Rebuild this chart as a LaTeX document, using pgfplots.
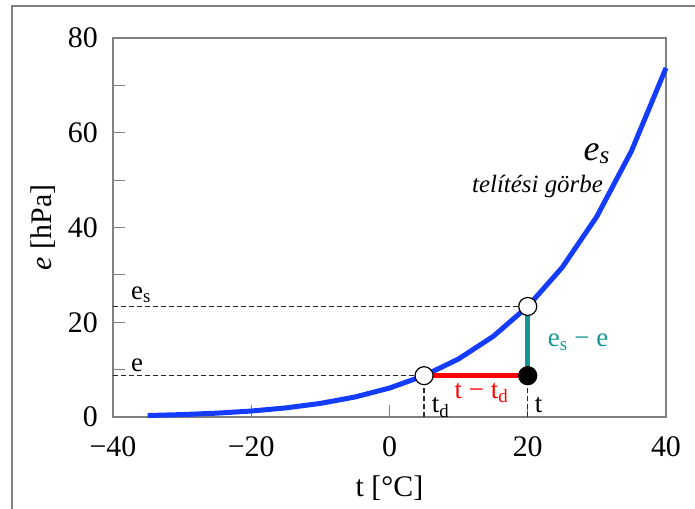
\documentclass[border=0pt]{standalone}
\usepackage{fontspec}
\setmainfont{Liberation Serif}[
  UprightFont=*, ItalicFont=* Italic, BoldFont=* Bold]
\newfontfamily\itserif{Liberation Serif Italic}
\usepackage{pgfplots}
\pgfplotsset{compat=1.18}
\definecolor{curveblue}{RGB}{20,60,255}
\definecolor{diffteal}{RGB}{20,150,150}
\definecolor{axisgray}{RGB}{128,128,128}
\newcommand{\ticksize}{\fontsize{30}{34}\selectfont}
\newcommand{\lblsize}{\fontsize{27}{31}\selectfont}

\begin{document}
\begin{tikzpicture}
\useasboundingbox (0,0) rectangle (695bp,509bp);
% outer frame (only top and left edge are visible)
\draw[axisgray, line width=1.2bp] (12bp,0) -- (12bp,503bp) -- (695bp,503bp);
\begin{axis}[
  at={(113bp,92bp)}, anchor=south west,
  scale only axis, width=553bp, height=379bp,
  xmin=-40, xmax=40, ymin=0, ymax=80,
  clip=false,
  axis line style={axisgray, line width=1.2bp},
  tick style={axisgray, line width=1bp},
  tick align=inside, major tick length=12bp, minor tick length=12bp,
  xtick pos=bottom, ytick pos=left,
  xtick={-40,-20,0,20,40},
  xticklabels={−40,−20,0,20,40},
  ytick={0,20,40,60,80},
  yticklabels={0,20,40,60,80},
  minor ytick={10,30,50,70},
  ticklabel style={font=\ticksize, inner sep=1bp},
  xticklabel style={yshift=-18bp},
  yticklabel style={xshift=-14bp},
  xlabel={t [°C]},
  ylabel={{\itserif e} [hPa]},
  label style={font=\ticksize},
  xlabel style={at={(axis description cs:0.5,-0.187)}, anchor=center},
  ylabel style={at={(axis description cs:-0.1266,0.5)}, anchor=center},
]
% guide lines
\addplot[black!85, line width=1.2bp, dash pattern=on 5bp off 3bp] coordinates {(-40,23.33) (20,23.33)};
\addplot[black!85, line width=1.2bp, dash pattern=on 5bp off 3bp] coordinates {(-40,8.72) (5,8.72)};
\addplot[black!85, line width=1.2bp, dash pattern=on 5bp off 3bp] coordinates {(5,0) (5,8.72)};
\addplot[black!85, line width=1.2bp, dash pattern=on 5bp off 3bp] coordinates {(20,0) (20,8.72)};

% saturation curve
\addplot[curveblue, line width=5bp, line join=round] coordinates {
(-35,0.31) (-30,0.51) (-25,0.81) (-20,1.26) (-15,1.92) (-10,2.87)
(-5,4.22) (0,6.11) (5,8.72) (10,12.26) (15,17.02) (20,23.33)
(25,31.60) (30,42.34) (35,56.13) (40,73.68)};

% differences
\addplot[red, line width=5bp] coordinates {(5,8.72) (20,8.72)};
\addplot[diffteal, line width=5bp] coordinates {(20,8.72) (20,23.33)};

% points
\addplot[only marks, mark=*, mark size=9bp,
  mark options={fill=white, draw=black, line width=1.2bp}]
  coordinates {(5,8.72) (20,23.33)};
\addplot[only marks, mark=*, mark size=9bp,
  mark options={fill=black, draw=black, line width=1.2bp}]
  coordinates {(20,8.72)};

% labels
\node[anchor=base west, inner sep=0, font=\lblsize] at (axis cs:-37.4,24.9) {e\textsubscript{s}};
\node[anchor=base west, inner sep=0, font=\lblsize] at (axis cs:-37.4,9.7) {e};
\node[anchor=base west, inner sep=0, font=\lblsize] at (axis cs:6.1,0.85) {t\textsubscript{d}};
\node[anchor=base west, inner sep=0, font=\lblsize] at (axis cs:21.0,0.85) {t};
\node[anchor=base, inner sep=0, font=\lblsize, text=red] at (axis cs:13.3,4.0) {t − t\textsubscript{d}};
\node[anchor=base west, inner sep=0, font=\lblsize, text=diffteal] at (axis cs:22.9,14.8) {e\textsubscript{s} − e};
\node[anchor=base east, inner sep=0, font=\fontsize{36}{40}\selectfont\itserif] at (axis cs:31.9,54.2) {e\textsubscript{s}};
\node[anchor=base east, inner sep=0, font=\fontsize{25}{30}\selectfont\itserif] at (axis cs:30.9,47.3) {telítési görbe};
\end{axis}
\end{tikzpicture}
\end{document}
